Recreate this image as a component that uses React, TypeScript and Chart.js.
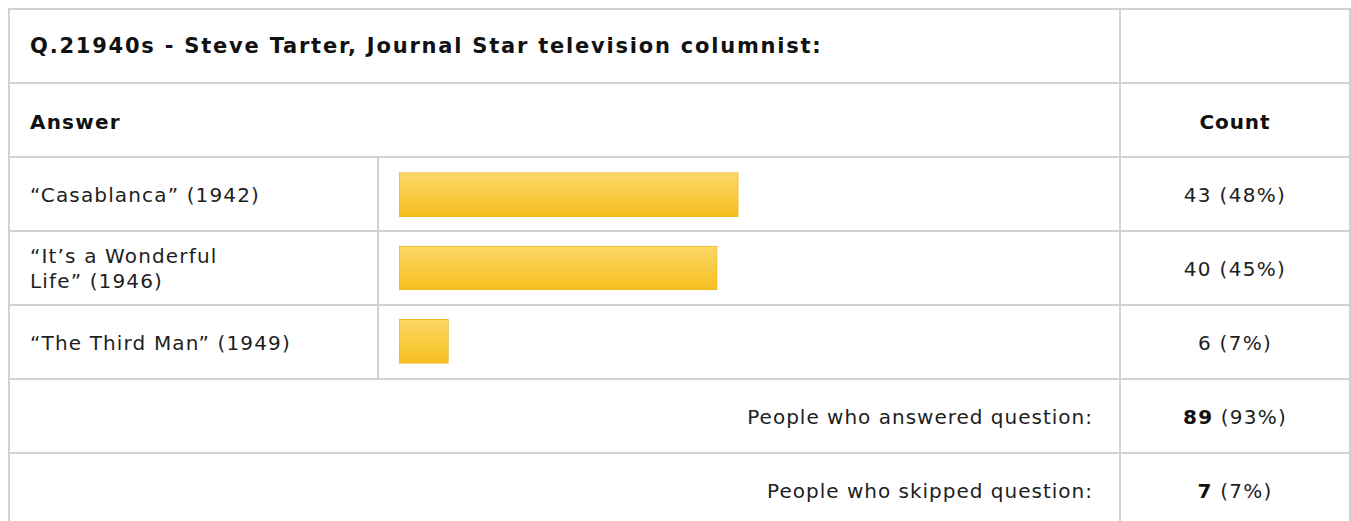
import React, { useEffect, useRef } from "react";
import { Chart, registerables } from "chart.js";

Chart.register(...registerables);

const title = "Q.21940s - Steve Tarter, Journal Star television columnist:";
const answerHeader = "Answer";
const countHeader = "Count";
const categories: string[][] = [
  ["“Casablanca” (1942)"],
  ["“It’s a Wonderful", "Life” (1946)"],
  ["“The Third Man” (1949)"],
];
const counts = [43, 40, 6];
const percents = [48, 45, 7];
const answeredLabel = "People who answered question:";
const answeredCount = 89;
const answeredPct = 93;
const skippedLabel = "People who skipped question:";
const skippedCount = 7;
const skippedPct = 7;

const FONT = "'DejaVu Sans', Verdana, sans-serif";
const LINE = "#d2d2d2";

const hLines = [9, 83, 157, 231, 305, 379, 453];

function BarChart() {
  const ref = useRef<HTMLCanvasElement | null>(null);
  useEffect(() => {
    if (!ref.current) return;
    const chart = new Chart(ref.current, {
      type: "bar",
      data: {
        labels: categories.map((c) => c.join(" ")),
        datasets: [
          {
            data: percents,
            backgroundColor: (ctx: any) => {
              const ch = ctx.chart;
              const ys = ch.scales && ch.scales.y;
              if (!ys || ctx.dataIndex === undefined) return "#f7c935";
              const y = ys.getPixelForValue(ctx.dataIndex);
              if (!Number.isFinite(y)) return "#f7c935";
              const g = ch.ctx.createLinearGradient(0, y - 22, 0, y + 22);
              g.addColorStop(0, "#fbd867");
              g.addColorStop(1, "#f5bf1e");
              return g;
            },
            borderColor: "#ecbb2c",
            borderWidth: 1,
            borderSkipped: false,
            barThickness: 44,
          } as any,
        ],
      },
      options: {
        indexAxis: "y",
        responsive: false,
        maintainAspectRatio: false,
        animation: false,
        layout: { padding: { left: 20, right: 13, top: 0, bottom: 0 } },
        plugins: { legend: { display: false }, tooltip: { enabled: false } },
        scales: {
          x: { display: false, min: 0, max: 100 },
          y: { display: false },
        },
      },
    });
    return () => chart.destroy();
  }, []);
  return (
    <canvas
      ref={ref}
      width={740}
      height={220}
      style={{ position: "absolute", left: 379, top: 158, width: 740, height: 220 }}
    />
  );
}

function Cell(props: {
  left: number;
  top: number;
  width: number;
  height: number;
  align: "left" | "center" | "right";
  padL?: number;
  padR?: number;
  children: React.ReactNode;
  bold?: boolean;
  size?: number;
  spacing?: number;
  dy?: number;
}) {
  const { left, top, width, height, align, padL = 0, padR = 0, children, bold, size = 20, spacing = 1, dy = 0 } = props;
  return (
    <div
      style={{
        position: "absolute",
        left,
        top: top + dy,
        width,
        height,
        display: "flex",
        alignItems: "center",
        justifyContent: align === "left" ? "flex-start" : align === "right" ? "flex-end" : "center",
        paddingLeft: padL,
        paddingRight: padR,
        boxSizing: "border-box",
        fontFamily: FONT,
        fontSize: size,
        letterSpacing: spacing,
        fontWeight: bold ? "bold" : "normal",
        color: bold ? "#111" : "#1e1e1e",
        lineHeight: "25px",
        textAlign: align,
        whiteSpace: "nowrap",
      }}
    >
      {children}
    </div>
  );
}

export default function App() {
  return (
    <div
      style={{
        position: "fixed",
        left: 0,
        top: 0,
        width: 1351,
        height: 521,
        overflow: "hidden",
        background: "#fff",
      }}
    >
      {hLines.map((y) => (
        <div key={y} style={{ position: "absolute", left: 8, top: y - 1, width: 1343, height: 2, background: LINE }} />
      ))}
      <div style={{ position: "absolute", left: 8, top: 8, width: 2, height: 513, background: LINE }} />
      <div style={{ position: "absolute", left: 1119, top: 8, width: 2, height: 513, background: LINE }} />
      <div style={{ position: "absolute", left: 1349, top: 8, width: 2, height: 513, background: LINE }} />
      <div style={{ position: "absolute", left: 377, top: 157, width: 2, height: 222, background: LINE }} />

      <Cell left={10} top={10} width={1109} height={72} align="left" padL={20} bold size={21} spacing={1.78}>
        {title}
      </Cell>
      <Cell left={10} top={84} width={1109} height={72} align="left" padL={20} bold spacing={1.2} dy={2}>
        {answerHeader}
      </Cell>
      <Cell left={1121} top={84} width={228} height={72} align="center" bold spacing={0.9} dy={2}>
        {countHeader}
      </Cell>

      {categories.map((lines, i) => (
        <React.Fragment key={i}>
          <Cell left={10} top={158 + i * 74} width={367} height={72} align="left" padL={20} dy={1} spacing={1.15}>
            <div>
              {lines.map((l, j) => (
                <div key={j}>{l}</div>
              ))}
            </div>
          </Cell>
          <Cell left={1121} top={158 + i * 74} width={228} height={72} align="center" dy={1} spacing={1.3}>
            {counts[i]} ({percents[i]}%)
          </Cell>
        </React.Fragment>
      ))}

      <BarChart />

      <Cell left={10} top={380} width={1109} height={72} align="right" padR={26} dy={1}>
        {answeredLabel}
      </Cell>
      <Cell left={1121} top={380} width={228} height={72} align="center" dy={1} spacing={1.2}>
        <span>
          <b style={{ color: "#111" }}>{answeredCount}</b> ({answeredPct}%)
        </span>
      </Cell>
      <Cell left={10} top={454} width={1109} height={72} align="right" padR={26} dy={1}>
        {skippedLabel}
      </Cell>
      <Cell left={1121} top={454} width={228} height={72} align="center" dy={1} spacing={1.2}>
        <span>
          <b style={{ color: "#111" }}>{skippedCount}</b> ({skippedPct}%)
        </span>
      </Cell>
    </div>
  );
}
